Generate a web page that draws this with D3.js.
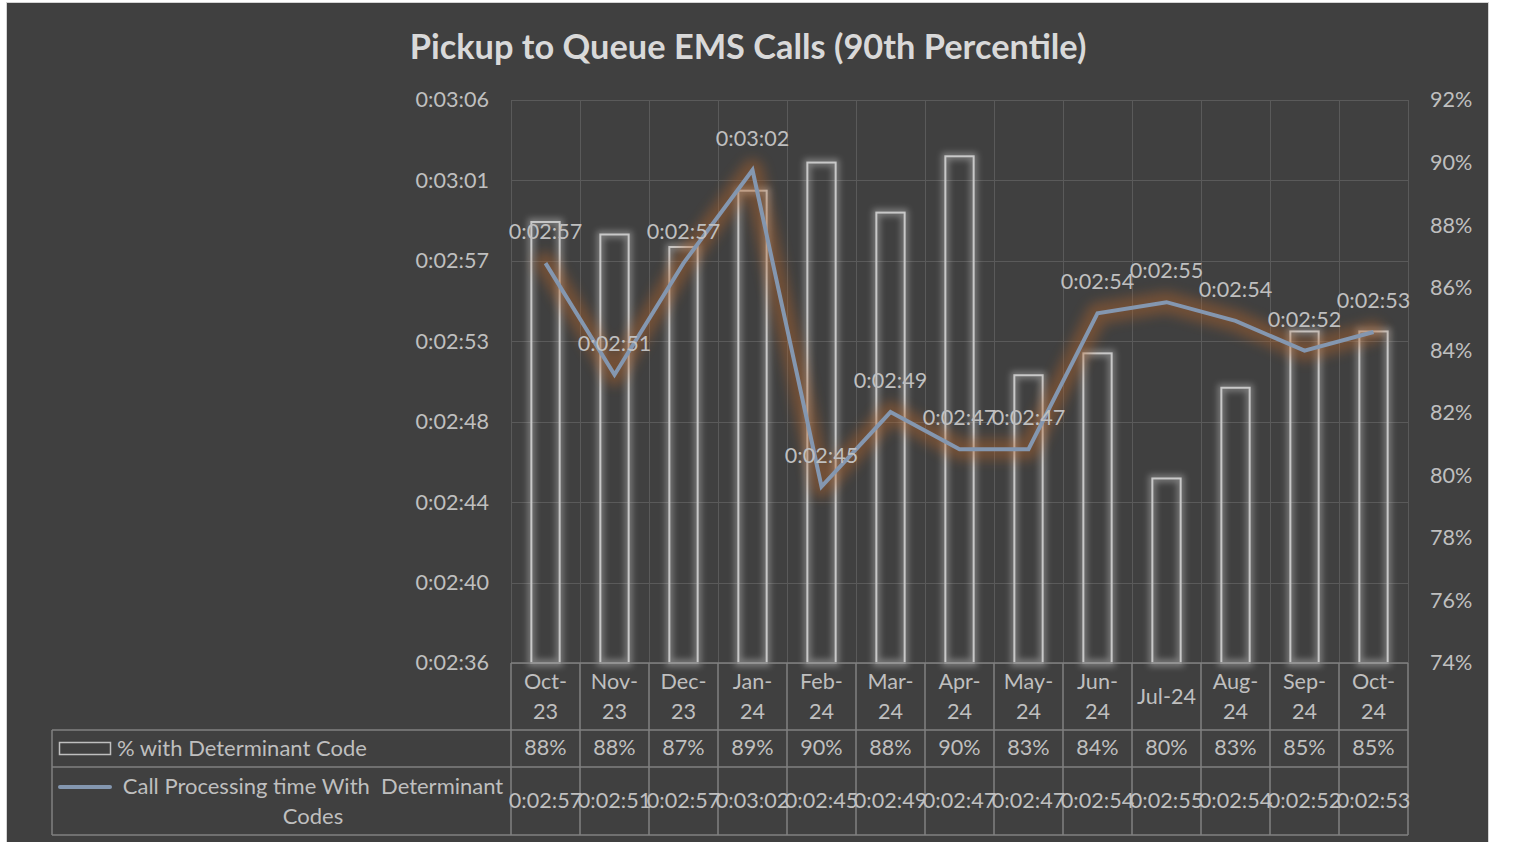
<!DOCTYPE html>
<html>
<head>
<meta charset="utf-8">
<script src="https://cdn.jsdelivr.net/npm/d3@7"></script>
<style>
  body { margin: 0; background: #ffffff; }
  svg { display: block; }
  text { font-family: Lato, "Open Sans", sans-serif; }
</style>
</head>
<body>
<svg id="chart" width="1515" height="842"></svg>
<script>
// chart data
const months = ["Oct-23", "Nov-23", "Dec-23", "Jan-24", "Feb-24", "Mar-24", "Apr-24",
                "May-24", "Jun-24", "Jul-24", "Aug-24", "Sep-24", "Oct-24"];
const monthLabels = [["Oct-", "23"], ["Nov-", "23"], ["Dec-", "23"], ["Jan-", "24"], ["Feb-", "24"],
                     ["Mar-", "24"], ["Apr-", "24"], ["May-", "24"], ["Jun-", "24"], ["Jul-24"],
                     ["Aug-", "24"], ["Sep-", "24"], ["Oct-", "24"]];
// % with determinant code (bars, right axis)
const pctWithCode = [88.1, 87.7, 87.3, 89.1, 90.0, 88.4, 90.2, 83.2, 83.9, 79.9, 82.8, 84.6, 84.6];
// call processing time in seconds (line, left axis)
const callSeconds = [177, 171, 177, 182, 165, 169, 167, 167, 174.3, 174.9, 173.9, 172.3, 173.3];

const timeTicks = [155.52, 159.84, 164.16, 168.48, 172.8, 177.12, 181.44, 185.76];
const pctTicks = [74, 76, 78, 80, 82, 84, 86, 88, 90, 92];

const chartTitle = "Pickup to Queue EMS Calls (90th Percentile)";
const barName = "% with Determinant Code";
const lineName = ["Call Processing time With  Determinant", "Codes"];

// format seconds as h:mm:ss
function fmtTime(s) {
  const t = Math.round(s);
  const m = Math.floor(t / 60), sec = t % 60;
  return "0:" + String(m).padStart(2, "0") + ":" + String(sec).padStart(2, "0");
}

const svg = d3.select("#chart");
const plotL = 511, plotR = 1408, plotT = 100, plotB = 663;
const textCol = "#bfbfbf";
const numSize = "21.6px";
const legSize = "22px";

// frame
svg.append("rect")
  .attr("x", 6.5).attr("y", 2.5)
  .attr("width", 1482).attr("height", 860)
  .attr("fill", "#404040")
  .attr("stroke", "#d4d4d4");

const defs = svg.append("defs");
defs.append("filter").attr("id", "barGlow")
  .attr("x", "-50%").attr("y", "-20%").attr("width", "200%").attr("height", "140%")
  .append("feGaussianBlur").attr("stdDeviation", 3);
defs.append("filter").attr("id", "lineGlow")
  .attr("x", "-10%").attr("y", "-30%").attr("width", "120%").attr("height", "160%")
  .append("feGaussianBlur").attr("stdDeviation", 6);

const x = d3.scaleBand().domain(months).range([plotL, plotR]).padding(0);
const yL = d3.scaleLinear().domain([timeTicks[0], timeTicks[timeTicks.length - 1]]).range([plotB, plotT]);
const yR = d3.scaleLinear().domain([pctTicks[0], pctTicks[pctTicks.length - 1]]).range([plotB, plotT]);
const bw = x.bandwidth() * 0.41;

// gridlines
const grid = svg.append("g").attr("stroke", "#5a5a5a").attr("stroke-width", 1);
grid.selectAll("line.h").data(timeTicks).enter().append("line")
  .attr("x1", plotL).attr("x2", plotR)
  .attr("y1", d => Math.round(yL(d)) + 0.5).attr("y2", d => Math.round(yL(d)) + 0.5);
grid.selectAll("line.v").data(months.concat(["end"])).enter().append("line")
  .attr("x1", (d, i) => Math.round(plotL + i * x.bandwidth()) + 0.5)
  .attr("x2", (d, i) => Math.round(plotL + i * x.bandwidth()) + 0.5)
  .attr("y1", plotT).attr("y2", plotB);

// axes
const axL = svg.append("g").attr("transform", `translate(${plotL},0)`)
  .call(d3.axisLeft(yL).tickValues(timeTicks).tickFormat(fmtTime).tickSize(0).tickPadding(22));
const axR = svg.append("g").attr("transform", `translate(${plotR},0)`)
  .call(d3.axisRight(yR).tickValues(pctTicks).tickFormat(d => d + "%").tickSize(0).tickPadding(22));
[axL, axR].forEach(a => {
  a.select(".domain").remove();
  a.selectAll("text").attr("fill", textCol).style("font-size", numSize).style("font-family", "Lato");
});

// bars
const bars = svg.append("g");
bars.selectAll("rect.glow").data(pctWithCode).enter().append("rect")
  .attr("x", (d, i) => x(months[i]) + (x.bandwidth() - bw) / 2)
  .attr("y", d => yR(d))
  .attr("width", bw).attr("height", d => plotB - yR(d))
  .attr("fill", "none").attr("stroke", "#d9d9d9").attr("stroke-width", 7)
  .attr("opacity", 0.4).attr("filter", "url(#barGlow)");
bars.selectAll("rect.bar").data(pctWithCode).enter().append("rect")
  .attr("x", (d, i) => x(months[i]) + (x.bandwidth() - bw) / 2)
  .attr("y", d => yR(d))
  .attr("width", bw).attr("height", d => plotB - yR(d))
  .attr("fill", "none").attr("stroke", "#c8c8c8").attr("stroke-width", 2);

// line
const line = d3.line()
  .x((d, i) => x(months[i]) + x.bandwidth() / 2)
  .y(d => yL(d));
svg.append("path").datum(callSeconds)
  .attr("d", line).attr("fill", "none")
  .attr("stroke", "#b5652a").attr("stroke-width", 22).attr("opacity", 0.42)
  .attr("stroke-linejoin", "round").attr("stroke-linecap", "round")
  .attr("filter", "url(#lineGlow)");
svg.append("path").datum(callSeconds)
  .attr("d", line).attr("fill", "none")
  .attr("stroke", "#8497b0").attr("stroke-width", 4)
  .attr("stroke-linejoin", "miter");

// data labels
svg.append("g").selectAll("text").data(callSeconds).enter().append("text")
  .attr("x", (d, i) => x(months[i]) + x.bandwidth() / 2)
  .attr("y", d => yL(d) - 32)
  .attr("text-anchor", "middle").attr("dominant-baseline", "central")
  .attr("fill", textCol).style("font-size", numSize)
  .text(fmtTime);

// title
const title = svg.append("text")
  .attr("x", 748).attr("y", 45)
  .attr("text-anchor", "middle").attr("dominant-baseline", "central")
  .attr("fill", "#d9d9d9").style("font-weight", "bold").style("font-size", "30px")
  .text(chartTitle);
const tw = title.node().getComputedTextLength();
title.style("font-size", (30 * 677 / tw) + "px");

// data table
const rowY = [663, 730, 767, 835];
const tbl = svg.append("g").attr("stroke", "#808080").attr("stroke-width", 1.5);
tbl.append("line").attr("x1", plotL).attr("x2", plotR).attr("y1", rowY[0]).attr("y2", rowY[0]);
rowY.slice(1).forEach(yy => {
  tbl.append("line").attr("x1", 52).attr("x2", plotR).attr("y1", yy).attr("y2", yy);
});
tbl.append("line").attr("x1", 52).attr("x2", 52).attr("y1", rowY[1]).attr("y2", rowY[3]);
tbl.selectAll("line.col").data(months.concat(["end"])).enter().append("line")
  .attr("x1", (d, i) => plotL + i * x.bandwidth())
  .attr("x2", (d, i) => plotL + i * x.bandwidth())
  .attr("y1", rowY[0]).attr("y2", rowY[3]);

const cells = svg.append("g").attr("fill", textCol).style("font-size", numSize);
monthLabels.forEach((lab, i) => {
  const cx = x(months[i]) + x.bandwidth() / 2;
  const ys = lab.length === 2 ? [681, 711] : [696];
  lab.forEach((t, k) => {
    cells.append("text").attr("x", cx).attr("y", ys[k])
      .attr("text-anchor", "middle").attr("dominant-baseline", "central").text(t);
  });
});
cells.selectAll("text.pct").data(pctWithCode).enter().append("text")
  .attr("x", (d, i) => x(months[i]) + x.bandwidth() / 2)
  .attr("y", 747)
  .attr("text-anchor", "middle").attr("dominant-baseline", "central")
  .text(d => Math.round(d) + "%");
cells.selectAll("text.time").data(callSeconds).enter().append("text")
  .attr("x", (d, i) => x(months[i]) + x.bandwidth() / 2)
  .attr("y", 800)
  .attr("text-anchor", "middle").attr("dominant-baseline", "central")
  .text(fmtTime);

// legend keys in table
svg.append("rect").attr("x", 59.5).attr("y", 742.5).attr("width", 51).attr("height", 12)
  .attr("fill", "none").attr("stroke", "#bfbfbf").attr("stroke-width", 1.5);
cells.append("text").attr("x", 117).attr("y", 747)
  .attr("dominant-baseline", "central").style("font-size", legSize).text(barName);
svg.append("line").attr("x1", 60).attr("x2", 110).attr("y1", 787).attr("y2", 787)
  .attr("stroke", "#8497b0").attr("stroke-width", 4).attr("stroke-linecap", "round");
lineName.forEach((t, k) => {
  cells.append("text").attr("x", 313).attr("y", 785 + k * 30)
    .attr("text-anchor", "middle").attr("dominant-baseline", "central")
    .style("font-size", legSize).style("white-space", "pre").text(t);
});
</script>
</body>
</html>
